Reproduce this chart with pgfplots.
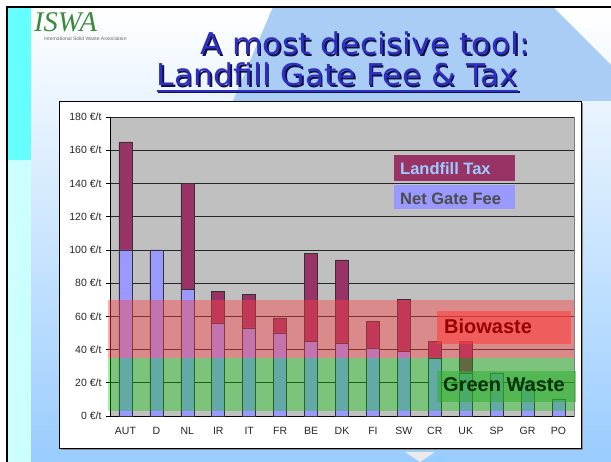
\documentclass[border=0pt]{standalone}
\usepackage{fontspec}
\setmainfont{Liberation Sans}
\newfontfamily\titlefont[FakeStretch=1.05]{DejaVu Sans}
\newfontfamily\logofont{Liberation Serif}
\usepackage{pgfplots}
\pgfplotsset{compat=1.18}

\definecolor{taxc}{HTML}{993366}
\definecolor{feec}{HTML}{9999FF}
\definecolor{plotbg}{HTML}{C0C0C0}
\definecolor{bandred}{HTML}{FF4040}
\definecolor{bandgreen}{HTML}{00CC00}
\definecolor{titleblue}{HTML}{2E2EC0}
\definecolor{titleshadow}{HTML}{10104A}
\definecolor{slideblue}{HTML}{99CCFF}
\definecolor{diamond}{HTML}{A9CDF4}
\definecolor{logogreen}{HTML}{3C8A3C}
\definecolor{stripcyan}{HTML}{66FFFF}
\definecolor{strippale}{HTML}{CCFFFF}

\pgfplotstableread{
cat gate total
0 100 165
1 100 100
2 76  140
3 56  75
4 53  73
5 50  59
6 45  98
7 44  94
8 41  57
9 39  70
10 35 45
11 26 45
12 26 26
13 20 20
14 10 10
}\feetable

\begin{document}
\begin{tikzpicture}[x=1pt,y=1pt]
\useasboundingbox (0,0) rectangle (611,462);
% slide background
\fill[white] (0,0) rectangle (611,462);
\shade[top color=white, bottom color=slideblue] (7,0) rectangle (611,455);
\fill[diamond] (273,455) -- (553,455) -- (611,397) -- (611,361) -- (233,361) -- cycle;
\fill[stripcyan] (8,302) rectangle (31,455);
\fill[strippale] (8,0) rectangle (31,302);
\fill[black] (5.5,0) rectangle (7.5,455.5);
\fill[black] (5.5,454) rectangle (611,456);

% logo
\node[anchor=base west, inner sep=0, font=\logofont\itshape\fontsize{28.5}{28}\selectfont, text=logogreen] at (34,430) {ISWA};
\node[anchor=base west, inner sep=0, font=\fontsize{5}{6}\selectfont, text=black!60] at (44,421) {International Solid Waste Association};

% title
\node[anchor=base west, inner sep=0, font=\titlefont\fontsize{30}{32}\selectfont, text=titleshadow] at (202,405.5) {A most decisive tool:};
\node[anchor=base west, inner sep=0, font=\titlefont\fontsize{30}{32}\selectfont, text=titleblue] at (200.5,407) {A most decisive tool:};
\node[anchor=base west, inner sep=0, font=\titlefont\fontsize{30}{32}\selectfont, text=titleshadow] (l2s) at (158,374.5) {Landfill Gate Fee \& Tax};
\node[anchor=base west, inner sep=0, font=\titlefont\fontsize{30}{32}\selectfont, text=titleblue] (l2) at (156.5,376) {Landfill Gate Fee \& Tax};
\draw[titleshadow, line width=2pt] ([yshift=-5pt]l2s.base west) -- ([yshift=-5pt]l2s.base east);
\draw[titleblue, line width=2pt] ([yshift=-5pt]l2.base west) -- ([yshift=-5pt]l2.base east);

% chart frame
\fill[black!45] (61,12) rectangle (583,359);
\draw[fill=white, draw=black, line width=0.8pt] (59,14) rectangle (581,361);
\fill[black!8] (405,10) -- (435,10) -- (420,0) -- cycle;

\begin{axis}[
  at={(110pt,46pt)}, anchor=south west,
  width=464pt, height=299pt, scale only axis,
  xmin=-0.5, xmax=14.5, ymin=0, ymax=180,
  axis background/.style={fill=plotbg, draw=black!50},
  axis x line*=bottom, axis y line*=left,
  axis line style={-, black, line width=0.8pt},
  xtick={0,...,14},
  xticklabels={AUT,D,NL,IR,IT,FR,BE,DK,FI,SW,CR,UK,SP,GR,PO},
  major x tick style={draw=none},
  xticklabel style={yshift=-4pt},
  extra x ticks={-0.5,0.5,...,14.5},
  extra x tick labels={},
  extra x tick style={grid=none, major tick length=4pt, tick style={black, line width=0.6pt}},
  ytick={0,20,...,180},
  yticklabel={\pgfmathprintnumber{\tick} €/t},
  yticklabel style={xshift=-1pt},
  /pgf/number format/assume math mode=true,
  ymajorgrids,
  grid style={black!85, line width=0.6pt},
  tick align=outside,
  major tick length=4pt,
  tick style={black, line width=0.6pt},
  tick label style={font=\fontsize{10.5}{12}\selectfont, text=black!85},
  clip=false,
]
\addplot[ybar, bar width=13pt, bar shift=0pt, fill=taxc, draw=black!80, line width=0.6pt]
  table[x=cat, y=total] {\feetable};
\addplot[ybar, bar width=13pt, bar shift=0pt, fill=feec, draw=black!80, line width=0.6pt]
  table[x=cat, y=gate] {\feetable};
\end{axis}

\begin{axis}[
  at={(110pt,46pt)}, anchor=south west,
  width=464pt, height=299pt, scale only axis,
  xmin=-0.5, xmax=14.5, ymin=0, ymax=180,
  hide axis, clip=false,
]
\addplot[draw=none, fill=bandgreen, fill opacity=0.35] coordinates {(-0.55,3) (14.5,3) (14.5,35) (-0.55,35)} -- cycle;
\addplot[draw=none, fill=bandred, fill opacity=0.42] coordinates {(-0.55,35) (14.5,35) (14.5,70) (-0.55,70)} -- cycle;
\end{axis}

% legend boxes
\fill[taxc] (394,281) rectangle (515,307);
\node[anchor=base west, inner sep=0, font=\bfseries\fontsize{16.5}{18}\selectfont, text=slideblue] at (400,287) {Landfill Tax};
\fill[feec] (394,253) rectangle (515,277);
\node[anchor=base west, inner sep=0, font=\bfseries\fontsize{16.5}{18}\selectfont, text=black!70] at (400,257) {Net Gate Fee};

\fill[red!75!white, fill opacity=0.6] (437,118) rectangle (571,151);
\node[anchor=base west, inner sep=0, font=\bfseries\fontsize{20}{22}\selectfont, text=red!60!black] at (444,128) {Biowaste};
\fill[green!60!black!80!white, fill opacity=0.55] (437,60) rectangle (576,91);
\node[anchor=base west, inner sep=0, font=\bfseries\fontsize{20}{22}\selectfont, text=green!20!black] at (443,70) {Green Waste};
\end{tikzpicture}
\end{document}
